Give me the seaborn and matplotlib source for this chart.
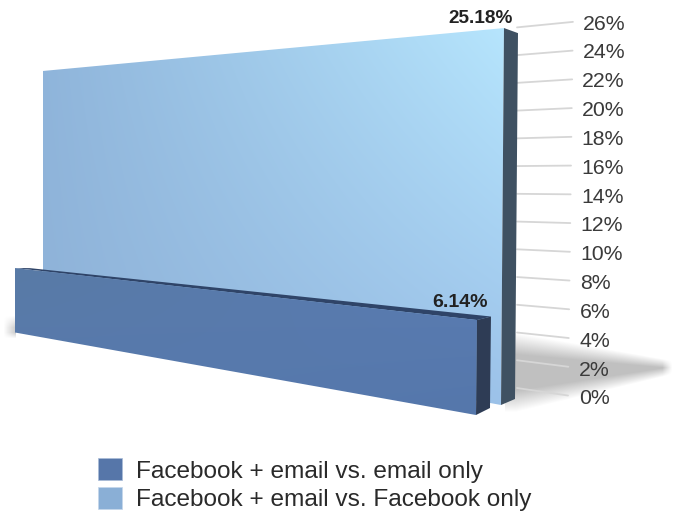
import numpy as np
import pandas as pd
import matplotlib
matplotlib.use("Agg")
import matplotlib.pyplot as plt
from matplotlib.colors import to_rgb
from matplotlib.patches import Patch, Polygon
from matplotlib.transforms import ScaledTranslation
import seaborn as sns

# Chart values
series_names = ["Facebook + email vs. email only", "Facebook + email vs. Facebook only"]
series_values = [6.14, 25.18]
tick_values = list(range(0, 28, 2))
tick_labels = [f"{v}%" for v in tick_values]

W, H = 674, 514
sns.set_theme(style="white")
plt.rcParams["font.family"] = ["Liberation Sans", "DejaVu Sans"]

fig = plt.figure(figsize=(W / 100, H / 100), dpi=100, facecolor="white")
ax = fig.add_axes([0, 0, 1, 1])
ax.set_axis_off()


# Vertical scale of one edge in the perspective scene: ground position and pixels per percent
def edge(x0, base, per_pct, lean=0.0):
    def project(v):
        return x0 + lean * v, base - per_pct * v
    return project


def shaded(poly, corners, z):
    """Fill a polygon with a bilinear blend of (top-left, top-right, bottom-left, bottom-right)."""
    pts = np.array(poly)
    x0, y0 = pts.min(axis=0)
    x1, y1 = pts.max(axis=0)
    u, t = np.meshgrid(np.linspace(0, 1, 200), np.linspace(0, 1, 200))
    tl, tr, bl, br = [np.array(to_rgb(c)) for c in corners]
    u, t = u[..., None], t[..., None]
    rgb = (1 - t) * ((1 - u) * tl + u * tr) + t * ((1 - u) * bl + u * br)
    img = ax.imshow(rgb, extent=(x0, x1, y1, y0), aspect="auto", zorder=z, interpolation="bilinear")
    img.set_clip_path(Polygon(poly, closed=True, transform=ax.transData))


def flat(poly, color, z):
    ax.add_patch(Polygon(poly, closed=True, facecolor=color, edgecolor="none", zorder=z))


# Soft cast shadow on the floor behind the tall bar
xs, ys = np.meshgrid(np.arange(505, 674), np.arange(330, 420))
u = np.clip((xs - 515) / 157, 0, 1)
center = 372 - 5 * u
half = 33 * (1 - u) + 7
alpha = np.clip((half - np.abs(ys - center)) / (8 + 14 * (1 - u)), 0, 1) * 0.25
alpha *= np.clip((672 - xs) / 10, 0, 1)
shadow = np.zeros(xs.shape + (4,))
shadow[..., 3] = alpha
ax.imshow(shadow, extent=(505, 674, 420, 330), aspect="auto", zorder=1, interpolation="bilinear")

# Small shadow at the left end of the short bar
xs2, ys2 = np.meshgrid(np.arange(3, 16), np.arange(315, 340))
a2 = np.clip((xs2 - 3) / 12, 0, 1) * np.clip((ys2 - 315) / 12, 0, 1) * np.clip((338 - ys2) / 6, 0, 1) * 0.2
sh2 = np.zeros(xs2.shape + (4,))
sh2[..., 3] = a2
ax.imshow(sh2, extent=(3, 16, 340, 315), aspect="auto", zorder=1, interpolation="bilinear")

# Grid lines run from the back of the wall out to the tick labels
wall_back = edge(517, 388, 13.87)
label_end = edge(568, 395.5, 14.37, lean=0.19)
rows = []
for v in tick_values:
    for end in (wall_back, label_end):
        px, py = end(v)
        rows.append({"tick": v, "x": px, "y": py})
grid = pd.DataFrame(rows)
sns.lineplot(data=grid, x="x", y="y", units="tick", estimator=None, sort=False,
             color="#d6d6d6", linewidth=1.3, legend=False, ax=ax, zorder=2)

# Tall bar
tall = series_values[1]
tall_right = edge(501, 405, 14.97, lean=0.119)
tall_left = edge(43, 320, 9.89)
tall_back = edge(515, 399, 14.53, lean=0.119)
shaded([tall_left(tall), tall_right(tall), tall_right(0), tall_left(0)],
       ["#8fb5db", "#b6e5fd", "#8fb2d8", "#9cc2e9"], 3)
flat([tall_right(tall), tall_back(tall), tall_back(0), tall_right(0)], "#3f5162", 4)

# Short bar
short = series_values[0]
short_right = edge(476, 415, 15.47, lean=0.16)
short_left = edge(15, 332.5, 10.5)
short_back = edge(490, 408, 14.9, lean=0.16)
short_rear_left = edge(30, 332, 10.4)
flat([short_left(short), short_rear_left(short), short_back(short), short_right(short)], "#2f4468", 5)
shaded([short_left(short), short_right(short), short_right(0), short_left(0)],
       ["#597aa6", "#5a7cb2", "#577aaf", "#5577ab"], 6)
flat([short_right(short), short_back(short), short_back(0), short_right(0)], "#2e3c55", 7)

# Value labels above each bar
tx, ty = tall_right(tall)
ax.text(tx - 23, ty - 10, f"{tall:.2f}%", ha="center", va="center", fontsize=13.7,
        fontweight="bold", color="#222222", zorder=8)
sx, sy = short_right(short)
ax.text(sx - 17, sy - 18, f"{short:.2f}%", ha="center", va="center", fontsize=14,
        fontweight="bold", color="#222222", zorder=8)

ax.set_xlim(0, W)
ax.set_ylim(H, 0)

# Percent axis: only its labels are shown, stepping slightly right with height
axis_ax = fig.add_axes([578 / W, (H - 397) / H, 1 / W, 375 / H], facecolor="none")
axis_ax.set_ylim(0, 26)
axis_ax.set_xticks([])
axis_ax.yaxis.tick_right()
axis_ax.set_yticks(tick_values)
axis_ax.set_yticklabels(tick_labels, fontsize=15.3, color="#3a3a3a")
axis_ax.tick_params(axis="y", length=0, pad=0)
for spine in axis_ax.spines.values():
    spine.set_visible(False)
fig.canvas.draw()
for v, lab in zip(tick_values, axis_ax.get_yticklabels()):
    lab.set_transform(lab.get_transform() + ScaledTranslation(0.15 * v / 100, 0, fig.dpi_scale_trans))

# Legend below the scene
handles = [Patch(facecolor="#5676a9", edgecolor="#a9bcd8", linewidth=0.5, label=series_names[0]),
           Patch(facecolor="#8aafd6", edgecolor="#c4d6ea", linewidth=0.5, label=series_names[1])]
ax.legend(handles=handles, loc="lower left", bbox_to_anchor=(98 / W, (H - 511) / H),
          bbox_transform=fig.transFigure, frameon=False, fontsize=17.6, borderpad=0, borderaxespad=0,
          handlelength=1.0, handleheight=1.0, handletextpad=0.55, labelspacing=0.16,
          labelcolor="#2a2a2a")

fig.savefig("out.png", dpi=100, facecolor="white")
